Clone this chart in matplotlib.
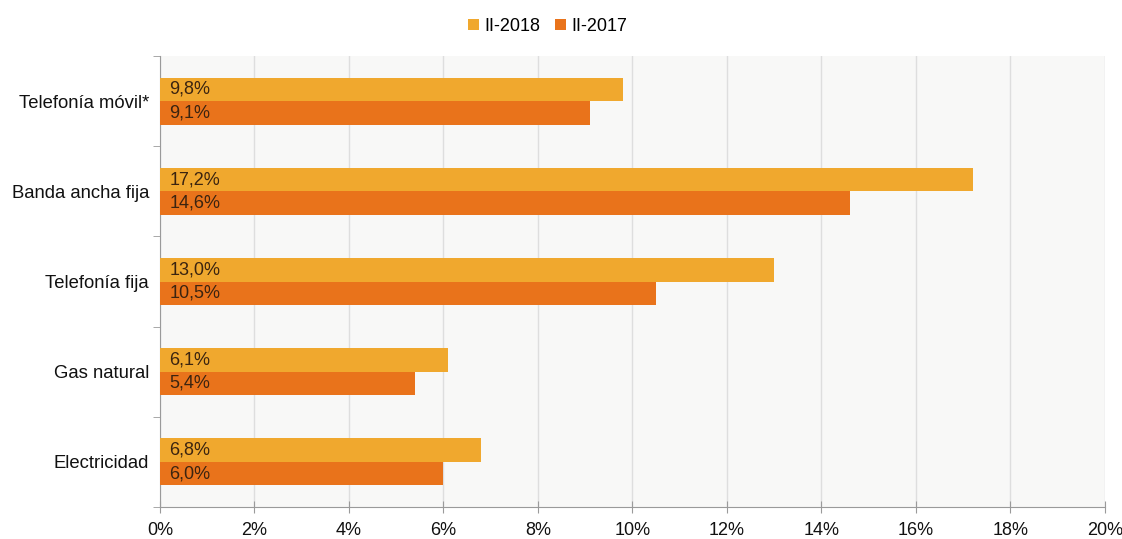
import matplotlib
matplotlib.use("Agg")
import matplotlib.pyplot as plt
import numpy as np
from matplotlib.ticker import FixedLocator, PercentFormatter

categorias = ["Telefonía móvil*", "Banda ancha fija", "Telefonía fija", "Gas natural", "Electricidad"]
serie_2018 = [9.8, 17.2, 13.0, 6.1, 6.8]
serie_2017 = [9.1, 14.6, 10.5, 5.4, 6.0]
etiquetas = ["II-2018", "II-2017"]

color_2018 = "#F0A82E"
color_2017 = "#E9731B"
fondo = "#F8F8F7"

plt.rcParams["font.family"] = ["Liberation Sans Narrow", "Liberation Sans", "DejaVu Sans"]

fig = plt.figure(figsize=(11.22, 5.39), dpi=100)
ax = fig.add_axes([0.1426, 0.0594, 0.8422, 0.8366])
ax.set_facecolor(fondo)

y = np.arange(len(categorias))
alto = 0.26
b1 = ax.barh(y - alto / 2, serie_2018, height=alto, color=color_2018, label=etiquetas[0], zorder=3)
b2 = ax.barh(y + alto / 2, serie_2017, height=alto, color=color_2017, label=etiquetas[1], zorder=3)

# etiquetas de valor al inicio de cada barra, con coma decimal
for barras, valores in ((b1, serie_2018), (b2, serie_2017)):
    for barra, v in zip(barras, valores):
        ax.text(0.2, barra.get_y() + barra.get_height() / 2, f"{v:.1f}%".replace(".", ","),
                va="center", ha="left", fontsize=13, color="#3b2410", zorder=4)

ax.set_xlim(0, 20)
ax.set_ylim(len(categorias) - 0.5, -0.5)
ax.set_xticks(np.arange(0, 21, 2))
ax.xaxis.set_major_formatter(PercentFormatter(decimals=0))
ax.set_yticks(y)
ax.set_yticklabels(categorias)
ax.yaxis.set_minor_locator(FixedLocator(np.arange(-0.5, len(categorias), 1)))
ax.tick_params(axis="y", which="major", length=0, pad=8, labelsize=13.3, labelcolor="#111111")
ax.tick_params(axis="y", which="minor", length=5, color="#9a9a9a", direction="out")
ax.tick_params(axis="x", length=8, direction="inout", color="#9a9a9a", labelsize=13,
               labelcolor="#111111", pad=7)

ax.grid(axis="x", color="#dedede", linewidth=1, zorder=0)
for lado in ("top", "right"):
    ax.spines[lado].set_visible(False)
for lado in ("left", "bottom"):
    ax.spines[lado].set_color("#9a9a9a")

fig.legend(loc="upper center", bbox_to_anchor=(0.488, 0.997), ncol=2, frameon=False,
           fontsize=13, handlelength=0.6, handleheight=0.6, handletextpad=0.3, columnspacing=0.8)

plt.savefig("out.png", dpi=100, facecolor="white")
